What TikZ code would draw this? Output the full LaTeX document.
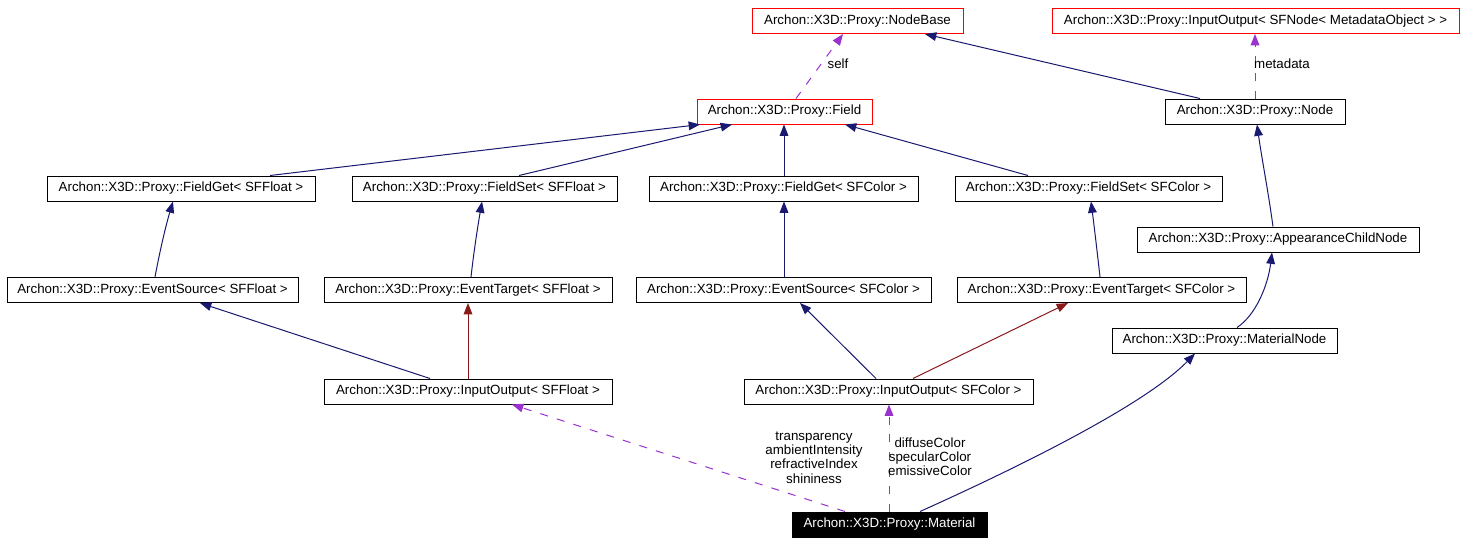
\documentclass[tikz,border=0pt]{standalone}
\usepackage{fontspec}
\setmainfont{Liberation Sans}
\usetikzlibrary{arrows.meta}
\definecolor{navy}{HTML}{191970}
\definecolor{dred}{HTML}{8B1A1A}
\definecolor{purp}{HTML}{9A32CD}
\begin{document}
\begin{tikzpicture}[x=0.75pt,y=-0.75pt,
  bx/.style={draw=black,line width=0.75pt,minimum width=#1*0.75pt,minimum height=18.75pt,inner sep=0pt,font=\fontsize{10}{12}\selectfont,fill=white},
  rbx/.style={bx=#1,draw=red},
  tip/.style={-{Triangle[length=8.5pt,width=6.5pt]}},
  inh/.style={draw=navy,line width=0.75pt,tip},
  pinh/.style={draw=dred,line width=0.75pt,tip},
  use/.style={draw=purp,line width=0.75pt,dash pattern=on 6pt off 7pt,tip},
  lbl/.style={font=\fontsize{10}{10.7}\selectfont,align=center,inner sep=0pt}]
\useasboundingbox[fill=white] (0,0) rectangle (1464,544);
% nodes
\node[rbx=211] (nb) at (857.5,21) {Archon::X3D::Proxy::NodeBase};
\node[rbx=407] (ion) at (1255.5,21) {Archon::X3D::Proxy::InputOutput< SFNode< MetadataObject > >};
\node[rbx=175] (field) at (784.5,111.5) {Archon::X3D::Proxy::Field};
\node[bx=180] (node) at (1255,111.5) {Archon::X3D::Proxy::Node};
\node[bx=268] (fgf) at (181,188.5) {Archon::X3D::Proxy::FieldGet< SFFloat >};
\node[bx=265] (fsf) at (484.5,188.5) {Archon::X3D::Proxy::FieldSet< SFFloat >};
\node[bx=269] (fgc) at (783.5,188.5) {Archon::X3D::Proxy::FieldGet< SFColor >};
\node[bx=267] (fsc) at (1088.5,188.5) {Archon::X3D::Proxy::FieldSet< SFColor >};
\node[bx=282] (acn) at (1278,239.5) {Archon::X3D::Proxy::AppearanceChildNode};
\node[bx=291] (esf) at (152.5,290) {Archon::X3D::Proxy::EventSource< SFFloat >};
\node[bx=288] (etf) at (468,290) {Archon::X3D::Proxy::EventTarget< SFFloat >};
\node[bx=295] (esc) at (783.5,290) {Archon::X3D::Proxy::EventSource< SFColor >};
\node[bx=289] (etc) at (1101.5,290) {Archon::X3D::Proxy::EventTarget< SFColor >};
\node[bx=225] (mn) at (1224.5,340.5) {Archon::X3D::Proxy::MaterialNode};
\node[bx=288] (iof) at (468,391.5) {Archon::X3D::Proxy::InputOutput< SFFloat >};
\node[bx=289] (ioc) at (888.5,391.5) {Archon::X3D::Proxy::InputOutput< SFColor >};
\node[bx=195,fill=black,text=white] (mat) at (889.5,524.5) {Archon::X3D::Proxy::Material};
% edges
\draw[use] (field.north -| 796,0) -- (nb.south -| 843,0);
\draw[inh] (node.north -| 1200,0) -- (nb.south -| 925,0);
\draw[use] (node.north) -- (ion.south -| 1255,0);
\draw[inh] (fgf.north -| 270,0) -- (field.south -| 700,0);
\draw[inh] (fsf.north -| 519,0) -- (field.south -| 732,0);
\draw[inh] (fgc.north -| 784,0) -- (field.south -| 784,0);
\draw[inh] (fsc.north -| 1028,0) -- (field.south -| 845,0);
\draw[inh] (esf.north -| 155,0) .. controls (160,250) and (166,225) .. (fgf.south -| 173,0);
\draw[inh] (etf.north -| 471,0) .. controls (474,250) and (478,225) .. (fsf.south -| 482,0);
\draw[inh] (esc.north -| 784,0) -- (fgc.south -| 784,0);
\draw[inh] (etc.north -| 1100,0) .. controls (1097,250) and (1094,225) .. (fsc.south -| 1091,0);
\draw[inh] (acn.north -| 1273,0) .. controls (1268,190) and (1262,160) .. (node.south -| 1257,0);
\draw[inh] (mn.north -| 1237,0) .. controls (1256,315) and (1268,285) .. (acn.south -| 1272,0);
\draw[inh] (iof.north -| 430,0) -- (esf.south -| 200,0);
\draw[pinh] (iof.north -| 468,0) -- (etf.south -| 468,0);
\draw[inh] (ioc.north -| 876,0) -- (esc.south -| 800,0);
\draw[pinh] (ioc.north -| 913,0) -- (etc.south -| 1068,0);
\draw[inh] (mat.north -| 920,0) .. controls (990,480) and (1140,410) .. (mn.south -| 1195,0);
\draw[use] (mat.north -| 845,0) -- (iof.south -| 512,0);
\draw[use] (mat.north -| 889,0) -- (ioc.south -| 889,0);
% labels
\node[lbl] (lself) at (838,64) {self};
\node[lbl] (lmeta) at (1282,64) {metadata};
\node[lbl] (lflt) at (814,457.5) {transparency\\ambientIntensity\\refractiveIndex\\shininess};
\node[lbl] (lcol) at (930,456.5) {diffuseColor\\specularColor\\emissiveColor};
\end{tikzpicture}
\end{document}
